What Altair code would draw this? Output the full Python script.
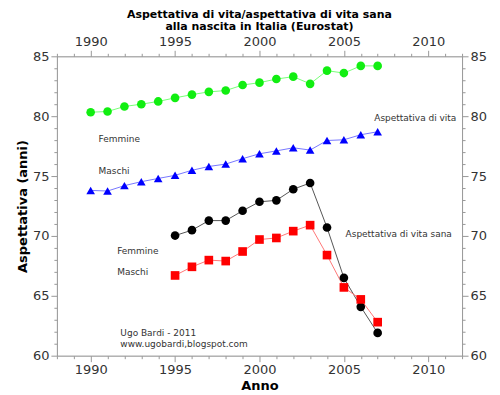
import altair as alt
import pandas as pd

anni_vita = list(range(1990, 2008))
femmine_vita = [80.33, 80.39, 80.81, 81.0, 81.23, 81.53, 81.8, 82.03, 82.14, 82.6,
                82.8, 83.1, 83.3, 82.7, 83.8, 83.6, 84.2, 84.2]
maschi_vita = [73.8, 73.75, 74.2, 74.53, 74.8, 75.06, 75.48, 75.8, 76.0, 76.45,
               76.86, 77.1, 77.36, 77.17, 77.97, 78.03, 78.45, 78.7]

anni_sana = list(range(1995, 2008))
femmine_sana = [70.03, 70.48, 71.28, 71.28, 72.1, 72.85, 72.97, 73.9, 74.42,
                70.7, 66.5, 64.08, 61.9]
maschi_sana = [66.7, 67.42, 67.98, 67.9, 68.7, 69.7, 69.83, 70.4, 70.9,
               68.4, 65.7, 64.7, 62.8]

serie_nomi = ["Femmine vita", "Maschi vita", "Femmine sana", "Maschi sana"]
colori_punti = ["#11ee11", "#0000ff", "#000000", "#ff0000"]
colori_linee = ["#77ff77", "#7777ff", "#555555", "#ff7777"]
forme = ["circle", "triangle-up", "circle", "square"]

# annotations (data coordinates)
note_testo = ["Femmine", "Maschi", "Aspettativa di vita", "Femmine", "Maschi",
              "Aspettativa di vita sana", "Ugo Bardi - 2011", "www.ugobardi,blogspot.com"]
note_anno = [1990.47, 1990.47, 2006.8, 1991.57, 1991.57, 2005.1, 1991.76, 1991.76]
note_valore = [78.06, 75.4, 79.87, 68.73, 67.0, 70.2, 61.87, 60.97]

rows = []
for nome, anni, vals in [
    ("Femmine vita", anni_vita, femmine_vita),
    ("Maschi vita", anni_vita, maschi_vita),
    ("Femmine sana", anni_sana, femmine_sana),
    ("Maschi sana", anni_sana, maschi_sana),
]:
    for a, v in zip(anni, vals):
        rows.append({"anno": a, "valore": v, "serie": nome})
df = pd.DataFrame(rows)
note_df = pd.DataFrame({"testo": note_testo, "anno": note_anno, "valore": note_valore})

xscale = alt.Scale(domain=[1988, 2012], nice=False, zero=False)
yscale = alt.Scale(domain=[60, 85], nice=False, zero=False)

tick_cond = {"condition": {"test": "datum.value % 5 === 0", "value": 6}, "value": 3}
lab_expr = "datum.value % 5 === 0 ? datum.label : ''"

def mkaxis(orient, title=None, vals=None):
    kw = dict(
        orient=orient, values=vals, format="d", labelExpr=lab_expr,
        tickSize=tick_cond, grid=False, labelOverlap=False, labelFlush=False,
        domainColor="#999999", tickColor="#999999", labelColor="#333333",
        labelFont="DejaVu Sans", labelFontSize=13, labelPadding=2,
        titleFont="DejaVu Sans", titleFontSize=13, titleFontWeight="bold",
        titleColor="#000000",
    )
    if title is not None:
        kw["title"] = title
        kw["titlePadding"] = 3
    else:
        kw["title"] = None
    return alt.Axis(**kw)

xvals = list(range(1988, 2013))
yvals = list(range(60, 86))

lines = alt.Chart(df).mark_line(strokeWidth=1).encode(
    x=alt.X("anno:Q", scale=xscale, axis=mkaxis("bottom", "Anno", xvals)),
    y=alt.Y("valore:Q", scale=yscale, axis=mkaxis("left", "Aspettativa (anni)", yvals)),
    color=alt.Color("serie:N", scale=alt.Scale(domain=serie_nomi, range=colori_linee), legend=None),
    detail="serie:N",
)

points = alt.Chart(df).mark_point(filled=True, opacity=1, size=75).encode(
    x=alt.X("anno:Q", scale=xscale, axis=mkaxis("top", None, xvals)),
    y=alt.Y("valore:Q", scale=yscale, axis=mkaxis("right", None, yvals)),
    fill=alt.Fill("serie:N", scale=alt.Scale(domain=serie_nomi, range=colori_punti), legend=None),
    shape=alt.Shape("serie:N", scale=alt.Scale(domain=serie_nomi, range=forme), legend=None),
)

notes = alt.Chart(note_df).mark_text(
    align="left", baseline="middle", font="DejaVu Sans", fontSize=9, color="#333333"
).encode(
    x=alt.X("anno:Q", scale=xscale, axis=None),
    y=alt.Y("valore:Q", scale=yscale, axis=None),
    text="testo:N",
)

chart = alt.layer(lines, points, notes).resolve_axis(
    x="independent", y="independent"
).resolve_scale(color="independent").properties(
    width=406, height=300,
    autosize=alt.AutoSizeParams(type="none"),
    padding={"left": 49, "top": 48, "right": 30, "bottom": 38},
    title=alt.TitleParams(
        text=["Aspettativa di vita/aspettativa di vita sana", "alla nascita in Italia (Eurostat)"],
        font="DejaVu Sans", fontSize=11, fontWeight="bold", color="#000000",
        anchor="middle", lineHeight=12, offset=3,
    ),
).configure_view(stroke=None).configure(background="white")

chart.save("out.html", embed_options={"renderer": "svg", "actions": False})
